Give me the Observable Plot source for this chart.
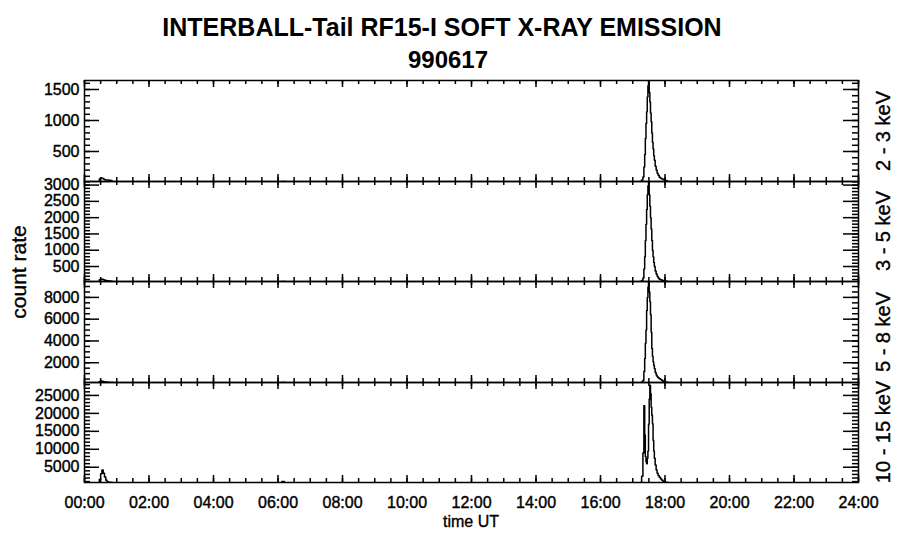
<!DOCTYPE html>
<html><head><meta charset="utf-8">
<script src="https://cdn.jsdelivr.net/npm/d3@7"></script>
<script src="https://cdn.jsdelivr.net/npm/@observablehq/plot@0.6"></script>
<style>
body{margin:0;background:#fff;}
#wrap{position:relative;width:900px;height:548px;font-family:"Liberation Sans",Arial,sans-serif;color:#000;overflow:hidden;}
.t{position:absolute;white-space:nowrap;line-height:1;}
.semi{-webkit-text-stroke:0.35px #000;}
#wrap svg text{stroke:#000;stroke-width:0.4px;}
</style></head><body><div id="wrap"></div>
<script>
// ---------- data ----------
const titleText = "INTERBALL-Tail RF15-I SOFT X-RAY EMISSION";
const dateText = "990617";
const yTitle = "count rate";
const xTitle = "time UT";
const bandLabels = ["2 - 3 keV", "3 - 5 keV", "5 - 8 keV", "10 - 15 keV"];

const xMajorTicks = [0, 2, 4, 6, 8, 10, 12, 14, 16, 18, 20, 22, 24];
const xTickLabels = ["00:00","02:00","04:00","06:00","08:00","10:00","12:00","14:00","16:00","18:00","20:00","22:00","24:00"];

const yDomain23 = [16, 1645];
const yDomain35 = [40, 3110];
const yDomain58 = [185, 9460];
const yDomain1015 = [750, 28600];
const yTicks23 = [500, 1000, 1500];
const yTicks35 = [500, 1000, 1500, 2000, 2500, 3000];
const yTicks58 = [2000, 4000, 6000, 8000];
const yTicks1015 = [5000, 10000, 15000, 20000, 25000];
const yMinorStep = [100, 100, 500, 1000];

// time samples (hours UT)
const timesA = [0.44, 0.48, 0.52, 0.56, 0.60, 0.64, 0.68, 0.72, 0.76, 0.80, 0.84, 0.88];
const timesB = [17.25, 17.30, 17.33, 17.36, 17.38, 17.40, 17.42, 17.44, 17.46, 17.48, 17.50, 17.52, 17.54, 17.56, 17.58, 17.60,
                17.62, 17.64, 17.66, 17.68, 17.71, 17.74, 17.77, 17.80, 17.84, 17.88, 17.92, 17.96, 18.00, 18.05, 18.10];
const timesC = [6.10, 6.14, 6.18, 6.22];

// 2 - 3 keV
const rate23A = [16, 55, 72, 68, 55, 46, 42, 40, 38, 35, 30, 16];
const rate23B = [20, 40, 90, 250, 450, 710, 950, 1140, 1380, 1560, 1640, 1450, 1300, 1120, 980, 800,
                 650, 540, 430, 360, 260, 200, 150, 115, 86, 70, 58, 48, 38, 28, 18];
const rate23C = [16, 16, 16, 16];
// 3 - 5 keV
const rate35A = [40, 90, 120, 110, 90, 75, 68, 62, 58, 52, 46, 40];
const rate35B = [45, 70, 150, 420, 800, 1300, 1800, 2250, 2700, 2980, 3090, 2700, 2350, 2000, 1650, 1300,
                 1000, 800, 620, 500, 360, 270, 200, 150, 110, 90, 75, 62, 55, 48, 42];
const rate35C = [40, 40, 40, 40];
// 5 - 8 keV
const rate58A = [185, 280, 330, 300, 260, 235, 222, 212, 204, 196, 190, 185];
const rate58B = [190, 230, 400, 1200, 2400, 3800, 5000, 6800, 8000, 8950, 9400, 8500, 7600, 6400, 4800, 3300,
                 2600, 2100, 1750, 1450, 1100, 880, 720, 620, 540, 460, 380, 300, 250, 215, 190];
const rate58C = [185, 185, 185, 185];
// 10 - 15 keV
const rate1015A = [750, 1600, 3200, 4200, 3300, 2300, 1400, 950, 820, 790, 770, 750];
const rate1015B = [800, 2500, 9000, 22100, 14000, 8000, 6500, 6000, 7500, 9500, 17000, 24000, 27800, 25500, 21700, 19500,
                   17100, 12500, 9500, 7500, 5600, 4200, 3300, 2700, 2200, 1700, 1350, 1030, 900, 800, 760];
const rate1015C = [750, 1000, 1050, 750];

// ---------- layout ----------
const W = 900, L = 84, R = 858;
const panelTops = [80, 181, 281, 382];
const panelBottoms = [181, 281, 382, 482];
const FONT = "'Liberation Sans', Arial, Helvetica, sans-serif";

const panels = [
  {dom: yDomain23, ticks: yTicks23, A: rate23A, B: rate23B, C: rate23C},
  {dom: yDomain35, ticks: yTicks35, A: rate35A, B: rate35B, C: rate35C},
  {dom: yDomain58, ticks: yTicks58, A: rate58A, B: rate58B, C: rate58C},
  {dom: yDomain1015, ticks: yTicks1015, A: rate1015A, B: rate1015B, C: rate1015C}
];

const wrap = document.getElementById("wrap");
function addText(txt, css, cls) {
  const d = document.createElement("div");
  d.className = "t" + (cls ? " " + cls : "");
  d.textContent = txt;
  Object.assign(d.style, css);
  wrap.appendChild(d);
  return d;
}

const xMinorTicks = d3.range(0, 24.01, 0.5);
const tickStyle = {stroke: "black", strokeWidth: 1.5};

panels.forEach((p, i) => {
  const T = panelTops[i], B = panelBottoms[i];
  const ph = B - T, pw = R - L;
  const mt = 12, mb = i === 3 ? 60 : 12;
  const rows = [];
  timesA.forEach((t, k) => rows.push({t, v: p.A[k], seg: "A"}));
  timesC.forEach((t, k) => rows.push({t, v: p.C[k], seg: "C"}));
  timesB.forEach((t, k) => rows.push({t, v: p.B[k], seg: "B"}));
  const minor = d3.range(yMinorStep[i], p.dom[1], yMinorStep[i]).filter(v => v > p.dom[0]);
  const marks = [
    Plot.line(rows, {x: "t", y: "v", z: "seg", curve: "step", stroke: "black", strokeWidth: 1.5, clip: true}),
    // x ticks bottom (inward) and top (inward)
    Plot.ruleX(xMajorTicks, {x: d => d, insetTop: ph - 7, ...tickStyle}),
    Plot.ruleX(xMajorTicks, {x: d => d, insetBottom: ph - 7, ...tickStyle}),
    Plot.ruleX(xMinorTicks, {x: d => d, insetTop: ph - 4, ...tickStyle}),
    Plot.ruleX(xMinorTicks, {x: d => d, insetBottom: ph - 4, ...tickStyle}),
    // y ticks left and right (inward)
    Plot.ruleY(p.ticks, {y: d => d, insetRight: pw - 15, ...tickStyle}),
    Plot.ruleY(p.ticks, {y: d => d, insetLeft: pw - 15, ...tickStyle}),
    Plot.ruleY(minor, {y: d => d, insetRight: pw - 6, ...tickStyle}),
    Plot.ruleY(minor, {y: d => d, insetLeft: pw - 6, ...tickStyle}),
    Plot.frame({stroke: "black", strokeWidth: 1.5}),
    Plot.axisY(p.ticks, {tickSize: 0, tickPadding: 5, fontSize: 16, tickFormat: d => String(d), label: null})
  ];
  if (i === 3) {
    marks.push(Plot.axisX(xMajorTicks, {tickSize: 0, tickPadding: 14, fontSize: 16,
      tickFormat: d => xTickLabels[xMajorTicks.indexOf(d)], label: null}));
  }
  const svg = Plot.plot({
    width: W, height: ph + mt + mb,
    marginLeft: L, marginRight: W - R, marginTop: mt, marginBottom: mb,
    x: {domain: [0, 24], axis: null},
    y: {domain: p.dom, axis: null},
    style: {fontFamily: FONT, background: "transparent", color: "black", overflow: "visible"},
    marks
  });
  svg.style.position = "absolute";
  svg.style.left = "0px";
  svg.style.top = (T - mt) + "px";
  wrap.appendChild(svg);

  // band label on the right, rotated
  addText(bandLabels[i], {fontSize: "20px", left: "883px", top: ((T + B) / 2) + "px",
    transform: "translate(-50%,-50%) rotate(-90deg)"}, "semi");
});

addText(titleText, {fontSize: "25px", fontWeight: "bold", left: "442px", top: "15px", transform: "translateX(-50%)"});
addText(dateText, {fontSize: "24px", fontWeight: "bold", left: "448px", top: "48px", transform: "translateX(-50%)"});
addText(yTitle, {fontSize: "21px", left: "18px", top: "272px", transform: "translate(-50%,-50%) rotate(-90deg)"}, "semi");
addText(xTitle, {fontSize: "16px", left: "471px", top: "514px", transform: "translateX(-50%)"}, "semi");
</script></body></html>
